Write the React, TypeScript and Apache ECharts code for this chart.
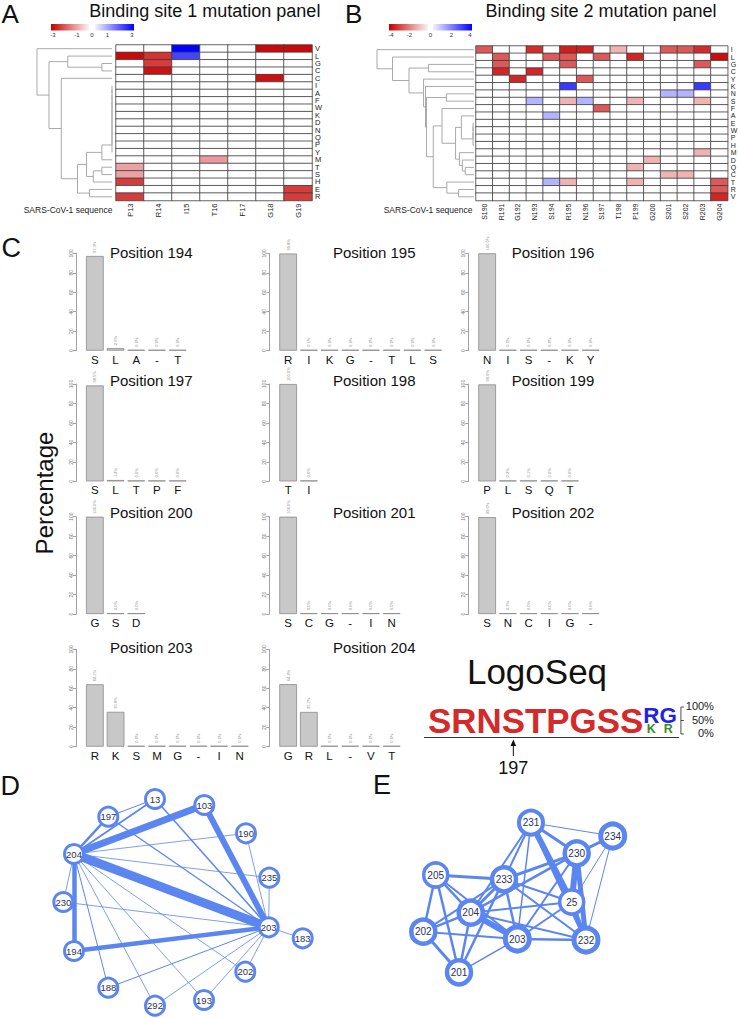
import React, { useEffect, useRef } from "react";
import * as echarts from "echarts";

const FONT = "'Liberation Sans', Arial, Helvetica, sans-serif";

// ---------------- Panel A : binding site 1 ----------------
const siteOneColumns = ["P13", "R14", "I15", "T16", "F17", "G18", "G19"];
const siteOneRows = ["V", "L", "G", "C", "C", "I", "A", "F", "W", "K", "D", "N", "Q", "P", "Y", "M", "T", "S", "H", "E", "R"];
// [column index, row index, score]
const siteOneScores: [number, number, number][] = [
  [2, 0, 3.0], [5, 0, -2.9], [6, 0, -2.9],
  [0, 1, -2.9], [1, 1, -2.4], [2, 1, 2.2],
  [1, 2, -2.3],
  [1, 3, -2.8],
  [5, 4, -2.8],
  [3, 15, -1.2],
  [0, 16, -1.1],
  [0, 17, -1.1],
  [0, 18, -2.3],
  [6, 19, -2.3],
  [0, 20, -2.3], [6, 20, -2.3],
];
const siteOneLegendTicks = [-3, -1, 0, 1, 3];

// ---------------- Panel B : binding site 2 ----------------
const siteTwoColumns = ["S190", "R191", "G192", "N193", "S194", "R195", "N196", "S197", "T198", "P199", "G200", "S201", "S202", "R203", "G204"];
const siteTwoRows = ["I", "L", "G", "C", "Y", "K", "N", "S", "F", "A", "E", "W", "P", "H", "M", "D", "Q", "C", "T", "R", "V"];
const siteTwoScores: [number, number, number][] = [
  [0, 0, -2.6], [3, 0, -3.3], [5, 0, -3.5], [6, 0, -3.5], [8, 0, -1.2], [11, 0, -2.6], [12, 0, -2.6], [13, 0, -3.3],
  [1, 1, -2.6], [4, 1, -2.6], [5, 1, -2.6], [7, 1, -2.6], [9, 1, -3.4], [14, 1, -3.8],
  [1, 2, -2.6], [5, 2, -2.6], [13, 2, -2.6],
  [1, 3, -3.4], [3, 3, -3.4],
  [2, 4, -3.4], [6, 4, -2.6],
  [5, 5, 3.1], [13, 5, 3.1],
  [11, 6, 1.2], [12, 6, 1.2],
  [3, 7, 1.2], [5, 7, -1.2], [6, 7, 1.2], [9, 7, -1.2], [13, 7, -1.2],
  [7, 8, -2.6],
  [4, 9, 1.2],
  [13, 14, -1.2],
  [10, 15, -1.2],
  [9, 16, -1.2],
  [11, 17, -1.2], [12, 17, -1.2],
  [4, 18, 1.2], [5, 18, -1.2], [9, 18, -1.2], [14, 18, -2.6],
  [14, 19, -2.6],
  [14, 20, -3.4],
];
const siteTwoLegendTicks = [-4, -2, 0, 2, 4];

// dendrograms: leaf = row index, node = [height, left, right]
type Tree = number | [number, Tree, Tree];
const siteOneZeroRows = [5, 6, 7, 8, 9, 10, 11, 12, 13, 14];
const siteOneTree: Tree = [10, 0, [8.4, [5.9, 1, [1.35, 2, 3]],
  [6.76, 4, [4.6, [3.4, [1.35, chain(siteOneZeroRows, 0), 15], [2.5, [1.35, 16, 17], 18]], [3.0, 19, 20]]]]];
const siteTwoZeroRows = [10, 11, 12, 13];
const siteTwoTree: Tree = [10, 0, [8.4, 1, [6.7, [4.7, 2, 3], [5.2, 4, [5.0, 5, [4.9, [2.85, 6, 7],
  [4.2, [3.3, 8, [1.9, [1.3, 9, chain(siteTwoZeroRows, 0.1)], [1.5, 14, [1.2, 15, [0.9, 16, 17]]]]], [2.8, 18, [1.6, 19, 20]]]]]]]]];

// ---------------- Panel C : residue frequencies ----------------
const positionNumbers = [194, 195, 196, 197, 198, 199, 200, 201, 202, 203, 204];
const residueLabels = [
  ["S", "L", "A", "-", "T"],
  ["R", "I", "K", "G", "-", "T", "L", "S"],
  ["N", "I", "S", "-", "K", "Y"],
  ["S", "L", "T", "P", "F"],
  ["T", "I"],
  ["P", "L", "S", "Q", "T"],
  ["G", "S", "D"],
  ["S", "C", "G", "-", "I", "N"],
  ["S", "N", "C", "I", "G", "-"],
  ["R", "K", "S", "M", "G", "-", "I", "N"],
  ["G", "R", "L", "-", "V", "T"],
];
const residuePercent = [
  [97.3, 2.6, 0.0, 0.0, 0.0],
  [99.8, 0.1, 0.0, 0.0, 0.0, 0.0, 0.0, 0.0],
  [100.0, 0.0, 0.0, 0.0, 0.0, 0.0],
  [98.5, 1.4, 0.0, 0.0, 0.0],
  [100.0, 0.0],
  [99.6, 0.2, 0.1, 0.0, 0.0],
  [100.0, 0.0, 0.0],
  [100.0, 0.0, 0.0, 0.0, 0.0, 0.0],
  [99.6, 0.3, 0.0, 0.0, 0.0, 0.0],
  [64.1, 35.8, 0.0, 0.0, 0.0, 0.0, 0.0, 0.0],
  [64.2, 35.7, 0.0, 0.0, 0.0, 0.0],
];
const percentTicks = [0, 20, 40, 60, 80, 100];
const logoArrowPosition = 197;

// ---------------- Panel D / E : networks ----------------
const netDIds = ["13", "103", "197", "190", "204", "235", "230", "203", "183", "194", "202", "188", "193", "292"];
const netDX = [155, 204.3, 108.3, 246, 74, 269.3, 63.3, 268.7, 302.7, 74, 245.3, 108.3, 204, 155];
const netDY = [799, 805, 816.7, 833.3, 854, 877.7, 902, 927.3, 938.3, 951, 971.7, 987.7, 1000, 1005.7];
const netDLinks: [string, string, number][] = [
  ["204", "203", 9], ["204", "103", 7], ["103", "203", 6], ["204", "194", 4.5], ["194", "203", 4.5],
  ["204", "197", 2.5], ["204", "13", 1.8], ["197", "13", 1], ["197", "203", 1.3], ["13", "203", 1.5],
  ["204", "190", 0.8], ["204", "235", 0.8], ["204", "230", 0.8], ["230", "203", 0.8], ["204", "188", 1],
  ["204", "292", 0.8], ["204", "193", 0.8], ["204", "202", 0.8], ["190", "203", 0.8], ["235", "203", 0.8],
  ["203", "183", 0.8], ["203", "188", 1], ["203", "292", 0.8], ["203", "193", 0.8], ["203", "202", 0.8],
];
const netEIds = ["231", "234", "230", "205", "233", "25", "204", "202", "203", "232", "201"];
const netEX = [531, 612.7, 576.7, 435.7, 504, 571.7, 470.7, 423.3, 517.3, 586, 459];
const netEY = [822.7, 836, 853.3, 875, 879.3, 902, 912.7, 931.7, 939, 940, 972.3];
const netERing = [4, 5, 4.5, 3.5, 4.5, 3.5, 4.5, 4.5, 5, 5, 4.5];
const netELinks: [string, string, number][] = [
  ["231", "234", 1], ["231", "230", 3], ["231", "25", 6], ["231", "232", 4], ["231", "233", 2], ["231", "204", 2], ["231", "203", 1.5],
  ["234", "230", 3], ["234", "25", 1], ["234", "232", 1],
  ["230", "25", 6], ["230", "232", 5], ["230", "233", 3], ["230", "204", 2.5], ["230", "203", 2],
  ["205", "233", 3], ["205", "204", 2.5], ["205", "202", 2.5], ["205", "201", 2.5], ["205", "203", 2],
  ["233", "204", 3], ["233", "203", 2.5], ["233", "202", 2], ["233", "201", 2.5], ["233", "25", 2], ["233", "232", 2],
  ["204", "203", 6], ["204", "202", 2.5], ["204", "201", 2.5], ["204", "25", 2], ["204", "232", 2],
  ["202", "203", 2], ["202", "201", 3], ["201", "203", 1.5], ["203", "25", 2], ["203", "232", 2.5], ["25", "232", 4],
];

// ---------------- helpers ----------------
function chain(rows: number[], h: number): Tree {
  let t: Tree = rows[0];
  for (let i = 1; i < rows.length; i++) t = [h, t, rows[i]];
  return t;
}

function fullGrid(nc: number, nr: number, scores: [number, number, number][]) {
  const m = new Map<string, number>();
  scores.forEach(([c, r, v]) => m.set(c + "_" + r, v));
  const out: [number, number, number][] = [];
  for (let c = 0; c < nc; c++) for (let r = 0; r < nr; r++) out.push([c, r, m.get(c + "_" + r) ?? 0]);
  return out;
}

const NET_BLUE = "#5b86f1";
const TXT = "#111";

export default function App() {
  const ref = useRef<HTMLDivElement>(null);
  useEffect(() => {
    document.body.style.margin = "0";
    const chart = echarts.init(ref.current!, null, { renderer: "svg" });

    const grids: any[] = [];
    const xAxes: any[] = [];
    const yAxes: any[] = [];
    const series: any[] = [];

    // heatmaps
    const heatSpecs = [
      { cols: siteOneColumns, rows: siteOneRows, scores: siteOneScores, box: { left: 116, top: 45, width: 196, height: 155.5 }, fs: 7.5 },
      { cols: siteTwoColumns, rows: siteTwoRows, scores: siteTwoScores, box: { left: 476, top: 46, width: 251.7, height: 154.5 }, fs: 7 },
    ];
    heatSpecs.forEach((h, i) => {
      grids.push({ ...h.box, outerBoundsMode: "none" });
      xAxes.push({
        type: "category", gridIndex: i, data: h.cols, position: "bottom",
        axisLine: { show: false }, axisTick: { show: false }, splitLine: { show: false },
        axisLabel: { rotate: 90, fontSize: h.fs, color: "#222", margin: 3, interval: 0, fontFamily: FONT },
      });
      yAxes.push({
        type: "category", gridIndex: i, data: h.rows, inverse: true, position: "right",
        axisLine: { show: false }, axisTick: { show: false }, splitLine: { show: false },
        axisLabel: { fontSize: h.fs, color: "#222", margin: 3, interval: 0, fontFamily: FONT },
      });
      series.push({
        type: "heatmap", xAxisIndex: i, yAxisIndex: i,
        data: fullGrid(h.cols.length, h.rows.length, h.scores),
        itemStyle: { borderColor: "#3c3c3c", borderWidth: 0.8 },
        emphasis: { disabled: true }, silent: true,
      });
    });

    // bar charts
    const barColAxisX = [76, 269.3, 468.3];
    const barRowTop = [253.3, 384, 516.7, 649.3];
    const barPlotH = 97.4, barPitch = 20.7, barW = 17.7, barLead = 8.5;
    residueLabels.forEach((labels, i) => {
      const g = grids.length;
      const row = Math.floor(i / 3), col = i % 3;
      grids.push({ left: barColAxisX[col] + barLead, top: barRowTop[row], width: labels.length * barPitch, height: barPlotH, outerBoundsMode: "none" });
      xAxes.push({
        type: "category", gridIndex: g, data: labels,
        axisLine: { show: false }, axisTick: { show: false }, splitLine: { show: false },
        axisLabel: { fontSize: 11.5, color: TXT, margin: 3, interval: 0, fontFamily: FONT },
      });
      yAxes.push({
        type: "value", gridIndex: g, min: percentTicks[0], max: percentTicks[percentTicks.length - 1], interval: 20, offset: barLead,
        axisLine: { show: true, lineStyle: { color: "#8a8a8a", width: 0.8 } },
        axisTick: { show: true, length: 3, lineStyle: { color: "#8a8a8a", width: 0.8 } },
        splitLine: { show: false },
        axisLabel: { fontSize: 5, color: "#777", rotate: 90, margin: 3, fontFamily: FONT },
      });
      series.push({
        type: "bar", xAxisIndex: g, yAxisIndex: g, data: residuePercent[i],
        barWidth: barW, barMinHeight: 1, silent: true,
        itemStyle: { color: "#c8c8c8", borderColor: "#8a8a8a", borderWidth: 0.8 },
        label: {
          show: true, position: "top", rotate: 90, align: "left", verticalAlign: "middle", distance: 3,
          fontSize: 4, color: "#888", fontFamily: FONT,
          formatter: (p: any) => Number(p.value).toFixed(1) + "%",
        },
      });
    });

    // networks
    const graphSeries = (ids: string[], xs: number[], ys: number[], links: [string, string, number][], size: number, rings: number[] | number, fs: number) => {
      const minX = Math.min(...xs), maxX = Math.max(...xs), minY = Math.min(...ys), maxY = Math.max(...ys);
      return {
        type: "graph", layout: "none", left: minX, top: minY, width: maxX - minX, height: maxY - minY,
        roam: false, silent: true, symbol: "circle", symbolSize: size,
        itemStyle: { color: "#ffffff", borderColor: NET_BLUE, borderWidth: 3 },
        label: { show: true, position: "inside", fontSize: fs, color: "#2c3154", fontFamily: FONT },
        lineStyle: { color: NET_BLUE, opacity: 1, curveness: 0 },
        emphasis: { disabled: true },
        data: ids.map((id, k) => ({
          name: id, x: xs[k], y: ys[k],
          itemStyle: { borderWidth: Array.isArray(rings) ? rings[k] : rings },
        })),
        links: links.map(([s, t, w]) => ({ source: s, target: t, lineStyle: { width: w } })),
      };
    };
    series.push(graphSeries(netDIds, netDX, netDY, netDLinks, 19, 3, 9.5));
    series.push(graphSeries(netEIds, netEX, netEY, netELinks, 24, netERing, 10));

    chart.setOption({
      animation: false,
      textStyle: { fontFamily: FONT },
      grid: grids, xAxis: xAxes, yAxis: yAxes,
      visualMap: [
        { type: "continuous", show: false, seriesIndex: 0, min: -3, max: 3, inRange: { color: ["#c80000", "#ffffff", "#0000ff"] } },
        { type: "continuous", show: false, seriesIndex: 1, min: -4, max: 4, inRange: { color: ["#c80000", "#ffffff", "#0000ff"] } },
      ],
      series,
    });

    // ---------------- graphics ----------------
    const els: any[] = [];
    const text = (t: string, x: number, y: number, fs: number, extra: any = {}, style: any = {}) =>
      els.push({ type: "text", x, y, silent: true, ...extra, style: { text: t, fontSize: fs, fontFamily: FONT, fill: TXT, align: "left", verticalAlign: "middle", ...style } });

    // panel letters
    text("A", 1.5, 13.5, 26);
    text("B", 345, 13.5, 26);
    text("C", 1.5, 248, 27);
    text("D", 0.5, 786, 27);
    text("E", 373, 785, 27);

    // heatmap titles
    text("Binding site 1 mutation panel", 204.8, 10.5, 18, {}, { align: "center" });
    text("Binding site 2 mutation panel", 601, 10.5, 18, {}, { align: "center" });
    text("SARS-CoV-1 sequence", 112.5, 210, 8.5, {}, { align: "right", fill: "#222" });
    text("SARS-CoV-1 sequence", 472.5, 210, 8.5, {}, { align: "right", fill: "#222" });

    // colour legends
    const legend = (x0: number, x1: number, x2: number, x3: number, max: number, ticks: number[]) => {
      const y = 24, h = 6.5;
      els.push({ type: "rect", silent: true, shape: { x: x0, y, width: x1 - x0, height: h },
        style: { fill: new echarts.graphic.LinearGradient(0, 0, 1, 0, [{ offset: 0, color: "#c80000" }, { offset: 1, color: "#fbf4f4" }]) } });
      els.push({ type: "rect", silent: true, shape: { x: x2, y, width: x3 - x2, height: h },
        style: { fill: new echarts.graphic.LinearGradient(0, 0, 1, 0, [{ offset: 0, color: "#f4f4fd" }, { offset: 1, color: "#0000ff" }]) } });
      ticks.forEach((v) => {
        const x = v < 0 ? x0 + 2 + ((v + max) / max) * (x1 - x0 - 2) : v > 0 ? x2 + (v / max) * (x3 - x2 - 2) : (x1 + x2) / 2;
        text(String(v), x, y + h + 4.5, 6, {}, { align: "center", fill: "#333" });
      });
    };
    legend(51, 89, 95, 134, 3, siteOneLegendTicks);
    legend(389, 428, 433, 472, 4, siteTwoLegendTicks);

    // dendrograms
    const dendro = (tree: Tree, gridIndex: number, leafX: number, rootX: number, maxH: number) => {
      const rowY = (r: number) => (chart.convertToPixel({ gridIndex } as any, [0, r]) as number[])[1];
      const hx = (h: number) => leafX - (h / maxH) * (leafX - rootX);
      const walk = (t: Tree): { x: number; y: number } => {
        if (typeof t === "number") return { x: hx(0), y: rowY(t) };
        const [h, a, b] = t;
        const A = walk(a), B = walk(b), x = hx(h);
        els.push({ type: "polyline", silent: true, shape: { points: [[A.x, A.y], [x, A.y], [x, B.y], [B.x, B.y]] },
          style: { stroke: "#a9a9a9", lineWidth: 1, fill: null } });
        return { x, y: (A.y + B.y) / 2 };
      };
      walk(tree);
    };
    dendro(siteOneTree, 0, 112, 37, 10);
    dendro(siteTwoTree, 1, 474, 377, 10);

    // bar chart titles
    const barTitleX = [110, 333, 511.7];
    const barTitleY = [252, 380.5, 512, 647.5];
    positionNumbers.forEach((p, i) => {
      text("Position " + p, barTitleX[i % 3], barTitleY[Math.floor(i / 3)], 15);
    });
    text("Percentage", 44, 493, 24, { rotation: Math.PI / 2 }, { align: "center" });

    // sequence logo (built from the residue frequencies)
    text("LogoSeq", 537, 671, 35, {}, { align: "center" });
    const ctx = document.createElement("canvas").getContext("2d")!;
    const measure = (t: string, fs: number) => {
      ctx.font = `bold ${fs}px 'Liberation Sans', Arial, sans-serif`;
      return ctx.measureText(t).width;
    };
    const logoLeft = 428, logoBase = 733, logoH = 25, CAP = 0.716, minPct = 5;
    let cursor = logoLeft;
    let arrowX = logoLeft;
    positionNumbers.forEach((p, i) => {
      const shown = residueLabels[i]
        .map((r, j) => ({ r, v: residuePercent[i][j] }))
        .filter((d) => d.v >= minPct && d.r !== "-")
        .sort((a, b) => b.v - a.v);
      const total = shown.reduce((s, d) => s + d.v, 0);
      const items = shown.map((d, k) => {
        const h = (d.v / total) * logoH;
        const fs = h / CAP;
        const color = shown.length === 1 ? "#d42a2a" : k === 0 ? "#2222e6" : "#3c8a28";
        return { ...d, h, fs, color, w: measure(d.r, fs) };
      });
      const colW = Math.max(...items.map((d) => d.w));
      const cx = cursor + colW / 2;
      if (p === logoArrowPosition) arrowX = cx;
      let base = logoBase;
      for (let k = items.length - 1; k >= 0; k--) {
        const it = items[k];
        text(it.r, cx, base - it.h / 2, it.fs, {}, { align: "center", fontWeight: "bold", fill: it.color, lineHeight: it.h });
        base -= it.h + 1;
      }
      cursor += colW;
    });
    const logoRight = cursor;
    els.push({ type: "line", silent: true, shape: { x1: logoLeft - 4, y1: 737.5, x2: logoRight + 2, y2: 737.5 }, style: { stroke: "#333", lineWidth: 1 } });
    const bx = logoRight + 4;
    els.push({ type: "polyline", silent: true, shape: { points: [[bx + 3, logoBase - logoH - 1], [bx, logoBase - logoH - 1], [bx, logoBase + 1], [bx + 3, logoBase + 1]] }, style: { stroke: "#222", lineWidth: 0.8, fill: null } });
    els.push({ type: "line", silent: true, shape: { x1: bx, y1: logoBase - logoH / 2, x2: bx + 3, y2: logoBase - logoH / 2 }, style: { stroke: "#222", lineWidth: 0.8 } });
    ["100%", "50%", "0%"].forEach((t, k) => text(t, bx + 33, logoBase - logoH - 2 + k * (logoH / 2 + 1), 11, {}, { align: "right", fill: "#222" }));
    els.push({ type: "line", silent: true, shape: { x1: arrowX, y1: 756, x2: arrowX, y2: 742 }, style: { stroke: "#111", lineWidth: 1 } });
    els.push({ type: "polygon", silent: true, shape: { points: [[arrowX, 739.5], [arrowX - 2.8, 746], [arrowX + 2.8, 746]] }, style: { fill: "#111" } });
    text(String(logoArrowPosition), arrowX, 767.5, 18, {}, { align: "center" });

    chart.setOption({ graphic: els });
    return () => chart.dispose();
  }, []);
  return <div ref={ref} style={{ width: 738, height: 1018 }} />;
}
